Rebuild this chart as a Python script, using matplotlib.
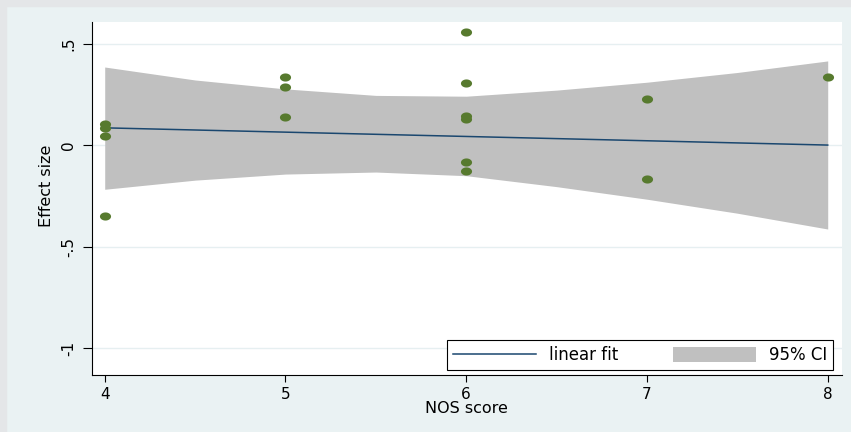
import numpy as np
import matplotlib
matplotlib.use("Agg")
import matplotlib.pyplot as plt
from matplotlib.path import Path
from matplotlib.patches import Rectangle

# ---- data ----
nos = [4, 4, 4, 4, 5, 5, 5, 6, 6, 6, 6, 6, 6, 7, 7, 8]
effect = [0.104, 0.084, 0.047, -0.350, 0.338, 0.288, 0.140,
          0.560, 0.309, 0.145, 0.132, -0.084, -0.125, 0.228, -0.168, 0.335]

fit_x = [4, 8]
fit_y = [0.086, 0.001]

ci_x = [4, 4.5, 5, 5.5, 6, 6.5, 7, 7.5, 8]
ci_upper = [0.386, 0.322, 0.278, 0.246, 0.242, 0.272, 0.311, 0.359, 0.416]
ci_lower = [-0.217, -0.172, -0.142, -0.132, -0.150, -0.204, -0.266, -0.335, -0.413]

xticks = [4, 5, 6, 7, 8]
yticks = [-1, -0.5, 0, 0.5]
yticklabels = ["-1", "-.5", "0", ".5"]

# ---- styling ----
plt.rcParams['font.family'] = ['DejaVu Sans']
W, H = 851, 432
fig = plt.figure(figsize=(W / 100, H / 100), dpi=100)
fig.patch.set_facecolor('#eaf2f3')
# thin grey border at top / left
fig.patches.append(Rectangle((0, 1 - 6 / H), 1, 6 / H, transform=fig.transFigure,
                             color='#e4e6e8', zorder=0))
fig.patches.append(Rectangle((0, 0), 6 / W, 1, transform=fig.transFigure,
                             color='#e4e6e8', zorder=0))

left, right, top, bottom = 91.7, 842, 22, 375
ax = fig.add_axes([left / W, 1 - bottom / H, (right - left) / W, (bottom - top) / H])
ax.set_facecolor('white')

ax.set_xlim(3.928, 8.079)
ax.set_ylim(-1.133, 0.608)

ax.set_axisbelow(True)
ax.yaxis.grid(True, color='#e6eff1', linewidth=1.0, zorder=0)
ax.xaxis.grid(False)

band = ax.fill_between(ci_x, ci_lower, ci_upper, color='#c0c0c0', linewidth=0,
                       zorder=1, label='95% CI')
line, = ax.plot(fit_x, fit_y, color='#1a476f', linewidth=1.1, zorder=2,
                label='linear fit')

theta = np.linspace(0, 2 * np.pi, 60)
ell = Path(np.column_stack([np.cos(theta), 0.73 * np.sin(theta)]), closed=True)
ax.plot(nos, effect, linestyle='none', marker=ell, markersize=8.0,
        color='#577a2e', markeredgewidth=0, zorder=3)

for s in ['top', 'right']:
    ax.spines[s].set_visible(False)
for s in ['left', 'bottom']:
    ax.spines[s].set_color('black')
    ax.spines[s].set_linewidth(0.8)

ax.set_xticks(xticks)
ax.set_xticklabels([str(t) for t in xticks])
ax.set_yticks(yticks)
ax.set_yticklabels(yticklabels, rotation=90, va='center')
ax.tick_params(axis='x', length=4.8, width=0.8, pad=4.0, labelsize=11, colors='black')
ax.tick_params(axis='y', length=6.7, width=0.8, pad=4.3, labelsize=11, colors='black')

ax.set_xlabel('NOS score', fontsize=11.5)
ax.set_ylabel('Effect size', fontsize=11.5)
ax.xaxis.set_label_coords(0.5, -0.096)
ax.yaxis.set_label_coords(-0.0609, 0.535)
ax.xaxis.label.set_va('center')
ax.yaxis.label.set_va('center')

leg = ax.legend(handles=[line, band], labels=['linear fit', '95% CI'], ncol=2,
                loc='lower left', bbox_to_anchor=(0.4731, 0.0142, 0.5153, 0.0773),
                mode='expand', borderaxespad=0,
                fontsize=12, handlelength=5.0, handleheight=1.0, handletextpad=0.8,
                columnspacing=1.9, borderpad=0.35, fancybox=False, framealpha=1,
                edgecolor='black', facecolor='white')
leg.get_frame().set_linewidth(0.8)

fig.savefig('out.png', dpi=100, facecolor=fig.get_facecolor())
